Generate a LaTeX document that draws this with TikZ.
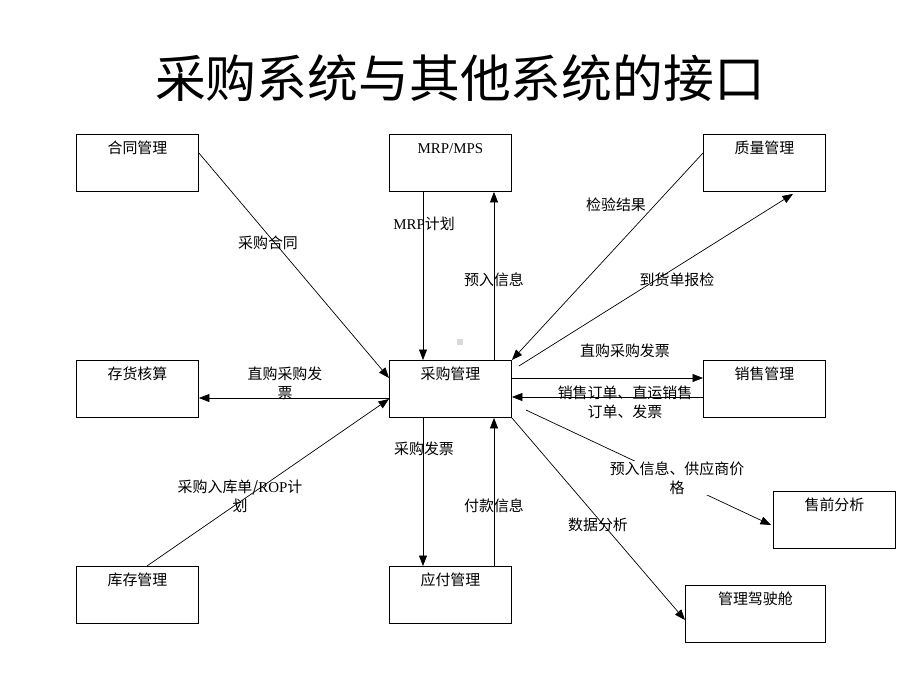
\documentclass[tikz,border=0pt]{standalone}
\usepackage{fontspec}
\setmainfont{Liberation Serif}
\newfontfamily\cjk{Noto Sans CJK SC}
\usetikzlibrary{arrows.meta,calc}
\begin{document}
\begin{tikzpicture}[x=1bp, y=-1bp,
		sys/.style={draw, line width=0.9bp, anchor=north west, align=center, inner sep=4bp,
			text width=#1, text height=15bp, text depth=34bp, font=\cjk\fontsize{15}{18}\selectfont},
		sys/.default=114bp,
		lab/.style={font=\cjk\fontsize{15}{19}\selectfont, align=center, inner sep=1bp},
		arr/.style={-{Triangle[length=10.5bp,width=8bp]}, line width=0.7bp}]
		\useasboundingbox (0,0) rectangle (920,690);
		
		% judul
		\node (title) at (460,78) {\cjk\fontsize{51}{60}\selectfont 采购系统与其他系统的接口};
		
		% kotak sistem
		\node (ht) at (76,134) [sys] {合同管理};
		\node (mrp) at (389,134) [sys] {\rmfamily MRP/MPS};
		\node (zl) at (703,134) [sys] {质量管理};
		\node (ch) at (76,360) [sys] {存货核算};
		\node (cg) at (389,360) [sys] {采购管理};
		\node (xs) at (703,360) [sys] {销售管理};
		\node (sq) at (773,491) [sys] {售前分析};
		\node (kc) at (76,566) [sys] {库存管理};
		\node (yf) at (389,566) [sys] {应付管理};
		\node (jsc) at (685,585) [sys=132bp] {管理驾驶舱};
		\node (dot) at (460,342) [fill=black!15, minimum size=6bp, inner sep=0pt] {};
		
		% panah
		\draw[arr] ($(ht.north east)+(0,19)$) -- ($(cg.north west)+(0,18)$);
		\draw[arr] ($(cg.north west)+(0,38)$) -- ($(ch.north east)+(0,38)$);
		\draw[arr] ($(kc.north)+(9.5,0)$) -- ($(cg.north west)+(0,39)$);
		\draw[arr] ($(mrp.south west)+(34,0)$) -- ($(cg.north west)+(34,0)$);
		\draw[arr] ($(cg.north west)+(105,0)$) -- ($(mrp.south west)+(105,0)$);
		\draw[arr] ($(zl.north west)+(0,19)$) -- (cg.north east);
		\draw[arr] ($(cg.north east)+(7,6)$) -- ($(zl.south west)+(90,2)$);
		\draw[arr] ($(cg.north east)+(0,18)$) -- ($(xs.north west)+(0,18)$);
		\draw[arr] ($(xs.north west)+(0,37)$) -- ($(cg.north east)+(0,37)$);
		\draw[arr] ($(cg.north east)+(14,50)$) -- ($(sq.north west)+(-2,34)$);
		\draw[arr] (cg.south east) -- ($(jsc.north west)+(0,35)$);
		\draw[arr] ($(cg.south west)+(34,0)$) -- ($(yf.north west)+(34,0)$);
		\draw[arr] ($(yf.north west)+(105,0)$) -- ($(cg.south west)+(105,0)$);
		
		% label panah
		\node (l1) at (268,243) [lab] {采购合同};
		\node (l2) at (424,224) [lab] {{\rmfamily MRP}计划};
		\node (l3) at (494,280) [lab] {预入信息};
		\node (l4) at (616,205) [lab] {检验结果};
		\node (l5) at (677,280) [lab] {到货单报检};
		\node (l6) at (625,351) [lab] {直购采购发票};
		\node (l7) at (625,402) [lab] {销售订单、直运销售\\订单、发票};
		\node (l8) at (285,383) [lab] {直购采购发\\票};
		\node (l9) at (424,449) [lab] {采购发票};
		\node (l10) at (240,496) [lab] {采购入库单/{\rmfamily ROP}计\\划};
		\node (l11) at (494,506) [lab] {付款信息};
		\node (l12) at (598,525) [lab] {数据分析};
		\node (l13) at (677,478) [lab, fill=white] {预入信息、供应商价\\格};
		
	\end{tikzpicture}
\end{document}
